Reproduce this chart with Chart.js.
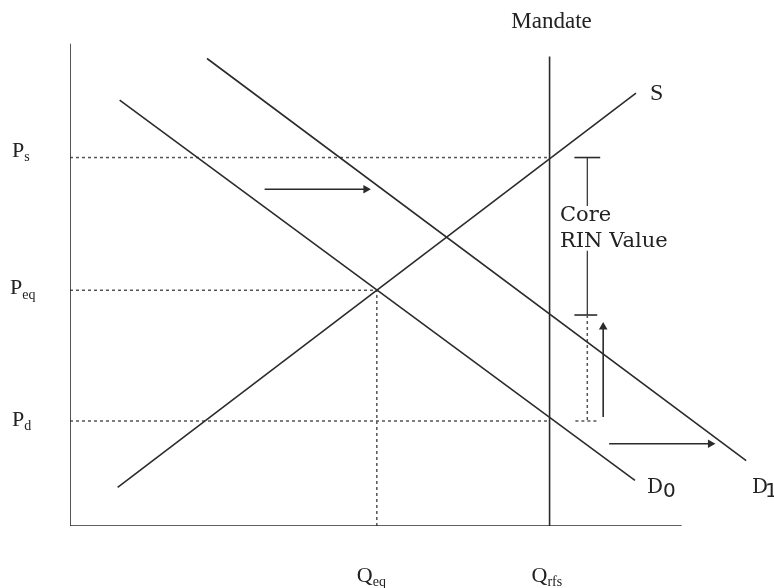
<!DOCTYPE html>
<html>
<head>
<meta charset="utf-8">
<script src="https://cdn.jsdelivr.net/npm/chart.js@4/dist/chart.umd.min.js"></script>
<style>
  html, body { margin: 0; padding: 0; background: #fff; }
  #wrap { width: 774px; height: 588px; position: relative; }
</style>
</head>
<body>
<div id="wrap"><canvas id="c"></canvas></div>
<script>
// 座標單位: x = 數量 (Q), y = 價格 (P), 原點在兩軸交會處
const axisY = [[0, 487], [0, 0]]
const axisX = [[0, 0], [616, 0]]

// 供給與需求曲線
const supplyS = [[48, 39], [570, 437]]
const demandD0 = [[50, 430], [569, 46]]
const demandD1 = [[138, 472], [681, 66]]

// 強制量 (Mandate) 與各價格水準
const qEq = 309
const qRfs = 483
const pS = 372
const pEq = 238
const pD = 106
const mandateLine = [[qRfs, -4], [qRfs, 474]]

// 箭頭 (起點, 終點)
const arrowUpper = [[196, 340], [298, 340]]
const arrowLower = [[543, 83], [645, 83]]
const arrowUp = [[537, 110], [537, 201]]

// Core RIN Value 區間標示
const rinX = 521
const rinTop = pS
const rinBottom = 213
const rinGap = [323, 278]

const dark = "#2b2b2b"
const dotted = "#555"

function pts(arr) {
  return arr.map(([x, y]) => ({ x, y }))
}

function solid(data, width) {
  return {
    data: pts(data),
    showLine: true,
    borderColor: dark,
    borderWidth: width || 1.6,
    pointRadius: 0,
  }
}

function dash(data) {
  return {
    data: pts(data),
    showLine: true,
    borderColor: dotted,
    borderWidth: 1.5,
    borderDash: [3, 3],
    pointRadius: 0,
  }
}

function arrow(data, rot) {
  return {
    data: pts(data),
    showLine: true,
    borderColor: dark,
    backgroundColor: dark,
    borderWidth: 1.6,
    pointStyle: "triangle",
    pointRotation: rot,
    pointRadius: [0, 5],
    pointBorderWidth: 0,
  }
}

const datasets = [
  solid(axisY, 1.6),
  solid(axisX, 1.6),
  solid(supplyS),
  solid(demandD0),
  solid(demandD1),
  solid(mandateLine),
  dash([[0, pS], [qRfs, pS]]),
  dash([[0, pEq], [qEq, pEq]]),
  dash([[0, pD], [qRfs, pD]]),
  dash([[qEq, 0], [qEq, pEq]]),
  dash([[rinX, rinBottom], [rinX, pD]]),
  dash([[509, pD], [532, pD]]),
  arrow(arrowUpper, 90),
  arrow(arrowLower, 90),
  arrow(arrowUp, 0),
  solid([[rinX, rinTop], [rinX, rinGap[0]]], 1.2),
  solid([[rinX, rinGap[1]], [rinX, rinBottom]], 1.2),
  solid([[508, rinTop], [534, rinTop]], 1.6),
  solid([[508, rinBottom], [531, rinBottom]], 1.6),
]

// 以下標方式繪製文字, 位置由座標軸換算
function sub(ctx, x, y, main, small, size, font) {
  ctx.font = size + "px " + font
  ctx.fillText(main, x, y)
  const w = ctx.measureText(main).width
  ctx.font = Math.round(size * 0.64) + "px " + font
  ctx.fillText(small, x + w, y + size * 0.2)
}

const labelPlugin = {
  id: "labels",
  afterDraw(chart) {
    const { ctx } = chart
    const sx = chart.scales.x
    const sy = chart.scales.y
    const serif = "'Liberation Serif', serif"
    ctx.save()
    ctx.fillStyle = "#222"
    ctx.textBaseline = "alphabetic"
    ctx.textAlign = "left"

    sub(ctx, 12, sy.getPixelForValue(pS) - 1, "P", "s", 22, serif)
    sub(ctx, 10, sy.getPixelForValue(pEq) + 4, "P", "eq", 22, serif)
    sub(ctx, 12, sy.getPixelForValue(pD) + 5, "P", "d", 22, serif)
    sub(ctx, sx.getPixelForValue(qEq) - 20, 582, "Q", "eq", 22, serif)
    sub(ctx, sx.getPixelForValue(qRfs) - 18, 582, "Q", "rfs", 22, serif)

    ctx.font = "23px " + serif
    ctx.textAlign = "center"
    ctx.fillText("Mandate", sx.getPixelForValue(qRfs) + 2, 28)
    ctx.textAlign = "left"
    ctx.font = "24px " + serif
    ctx.fillText("S", sx.getPixelForValue(570) + 14, 100)

    const dv = "'DejaVu Serif', serif"
    ctx.font = "20px " + dv
    ctx.fillText("D", 647, 493)
    ctx.fillText("D", 752, 493)
    ctx.font = "20px 'DejaVu Sans', sans-serif"
    ctx.fillText("0", 663, 497)
    ctx.fillText("1", 765, 497)

    ctx.font = "21px " + dv
    ctx.fillText("Core", 560, 221)
    ctx.fillText("RIN Value", 560, 247)
    ctx.restore()
  },
}

new Chart(document.getElementById("c"), {
  type: "scatter",
  data: { datasets },
  options: {
    responsive: true,
    maintainAspectRatio: false,
    animation: false,
    layout: { padding: { left: 70, right: 0, top: 0, bottom: 62 } },
    plugins: { legend: { display: false }, tooltip: { enabled: false } },
    scales: {
      x: { type: "linear", min: 0, max: 704, display: false },
      y: { type: "linear", min: 0, max: 526, display: false },
    },
  },
  plugins: [labelPlugin],
})
</script>
</body>
</html>
